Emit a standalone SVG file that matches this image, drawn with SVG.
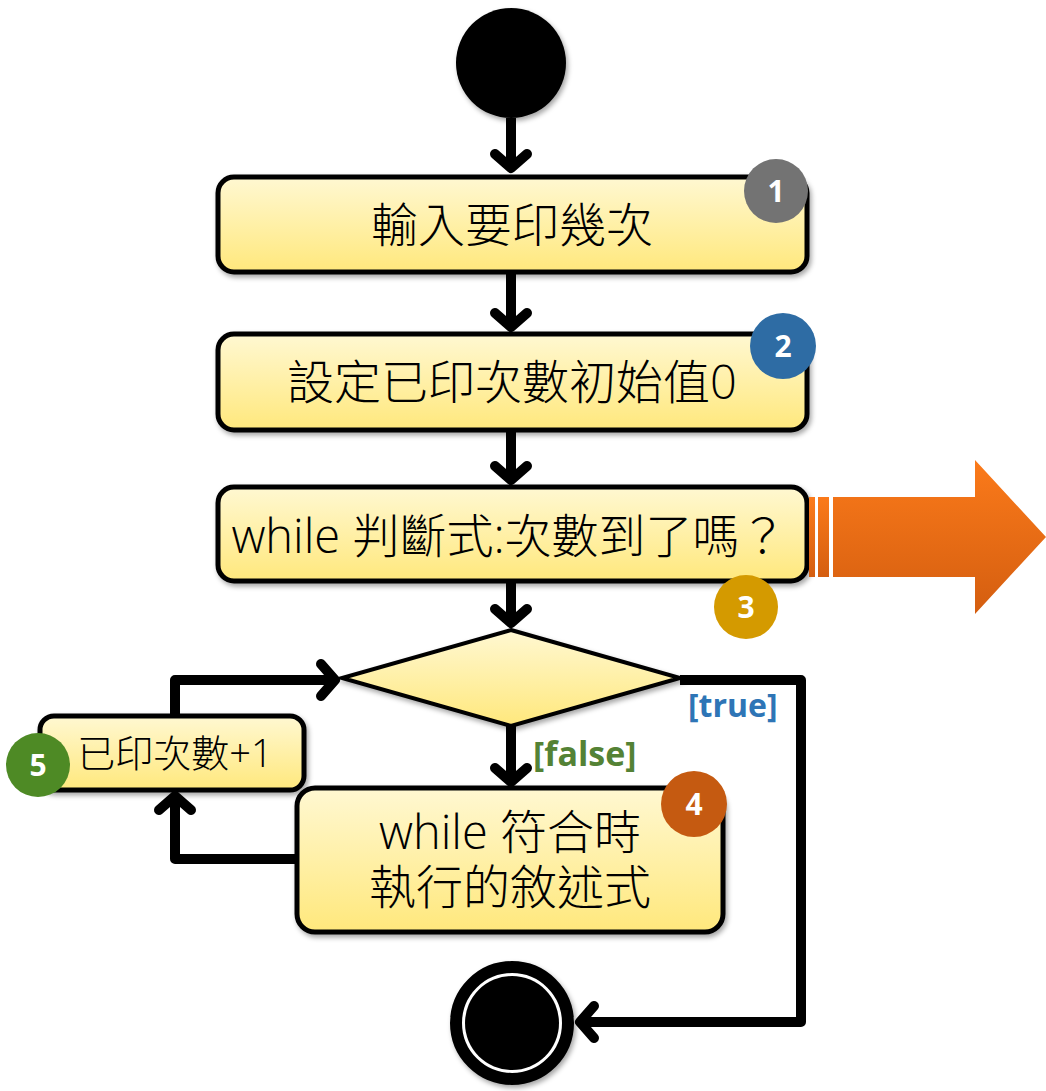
<svg xmlns="http://www.w3.org/2000/svg" width="1046" height="1091" viewBox="0 0 1046 1091">
<defs>
<linearGradient id="yg" x1="0" y1="0" x2="0" y2="1">
<stop offset="0" stop-color="#fff8d2"/>
<stop offset="1" stop-color="#ffe87c"/>
</linearGradient>
<linearGradient id="og" x1="0" y1="0" x2="0" y2="1">
<stop offset="0" stop-color="#fb7a1a"/>
<stop offset="1" stop-color="#d45e10"/>
</linearGradient>
<filter id="sh" x="-10%" y="-10%" width="130%" height="140%">
<feDropShadow dx="2" dy="3" stdDeviation="2.5" flood-color="#000" flood-opacity="0.35"/>
</filter>
<marker id="ah" viewBox="0 0 20 20" refX="17" refY="10" markerWidth="20" markerHeight="20" markerUnits="userSpaceOnUse" orient="auto" overflow="visible">
<path d="M3,-6 L17,10 L3,26" fill="none" stroke="#000" stroke-width="10" stroke-linecap="round" stroke-linejoin="round"/>
</marker>
</defs>
<style>
.box{fill:url(#yg);stroke:#000;stroke-width:5;filter:url(#sh)}
.t{font-family:"Open Sans","Noto Sans CJK TC",sans-serif;font-weight:300;font-size:47px;fill:#000;text-anchor:middle}
.c{fill:none;stroke:#000;stroke-width:10;stroke-linejoin:round}
.bt{font-family:"Open Sans","Noto Sans",sans-serif;font-weight:bold;font-size:30px;fill:#fff;text-anchor:middle}
.lbl{font-family:"Open Sans","Noto Sans",sans-serif;font-weight:bold;font-size:32px}
</style>

<g id="start"><circle cx="511" cy="63" r="55" fill="#000" filter="url(#sh)"/></g>

<g id="connectors">
<line class="c" x1="511" y1="118" x2="511" y2="168" marker-end="url(#ah)"/>
<line class="c" x1="511" y1="272" x2="511" y2="327" marker-end="url(#ah)"/>
<line class="c" x1="511" y1="430" x2="511" y2="480" marker-end="url(#ah)"/>
<line class="c" x1="511" y1="581" x2="511" y2="623" marker-end="url(#ah)"/>
<line class="c" x1="511" y1="726" x2="511" y2="782" marker-end="url(#ah)"/>
<polyline class="c" points="175,716 175,680 335,680" marker-end="url(#ah)"/>
<polyline class="c" points="297,859 175,859 175,796" marker-end="url(#ah)"/>
<polyline class="c" points="680,680 801,680 801,1022 580,1022" marker-end="url(#ah)"/>
</g>

<g id="n1">
<rect class="box" x="218" y="177" width="589" height="95" rx="16"/>
<text class="t" x="512" y="242">輸入要印幾次</text>
<circle cx="776" cy="191" r="32" fill="#737373"/>
<text class="bt" x="776" y="202">1</text>
</g>

<g id="n2">
<rect class="box" x="218" y="334" width="589" height="96" rx="16"/>
<text class="t" x="512" y="399">設定已印次數初始值0</text>
<circle cx="783" cy="346" r="33" fill="#2e6ca4"/>
<text class="bt" x="783" y="357">2</text>
</g>

<g id="n3">
<rect class="box" x="218" y="487" width="589" height="94" rx="16"/>
<text class="t" x="509" y="553">while 判斷式:次數到了嗎？</text>
<circle cx="746" cy="607" r="32" fill="#d49a00"/>
<text class="bt" x="746" y="618">3</text>
</g>

<g id="bigarrow">
<rect x="809" y="497" width="6" height="80" fill="url(#og)"/>
<rect x="818" y="497" width="11" height="80" fill="url(#og)"/>
<path d="M833,497 L975,497 L975,460 L1046,537 L975,614 L975,577 L833,577 Z" fill="url(#og)"/>
</g>

<g id="decision">
<polygon points="511,630 680,678 511,726 342,678" fill="url(#yg)" stroke="#000" stroke-width="4" stroke-linejoin="miter" filter="url(#sh)"/>
<text class="lbl" x="688" y="717" fill="#2e75b6">[true]</text>
<text class="lbl" x="533" y="766" fill="#548235" style="font-size:34px">[false]</text>
</g>

<g id="n5">
<rect class="box" x="40" y="716" width="264" height="74" rx="14"/>
<text class="t" x="175" y="767" style="font-size:38px">已印次數+1</text>
<circle cx="38" cy="765" r="32" fill="#4e8a25"/>
<text class="bt" x="38" y="776">5</text>
</g>

<g id="n4">
<rect class="box" x="297" y="788" width="426" height="144" rx="18"/>
<text class="t" x="510" y="849">while 符合時</text>
<text class="t" x="510" y="904">執行的敘述式</text>
<circle cx="694" cy="804" r="33" fill="#c55a11"/>
<text class="bt" x="694" y="815">4</text>
</g>

<g id="end">
<circle cx="512" cy="1023" r="56" fill="#fff" stroke="#000" stroke-width="12" filter="url(#sh)"/>
<circle cx="512" cy="1023" r="47" fill="#000"/>
</g>
</svg>
